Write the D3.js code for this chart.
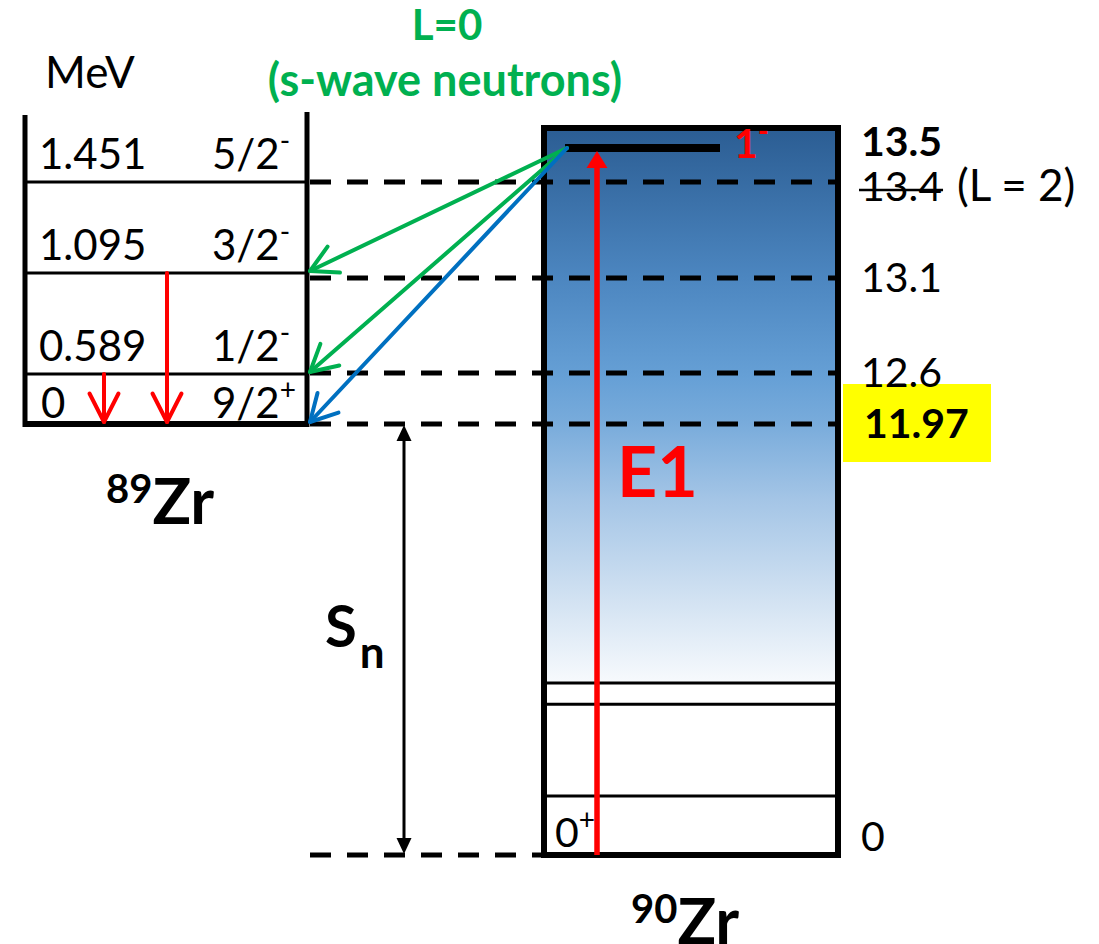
<!DOCTYPE html>
<html>
<head>
<meta charset="utf-8">
<script src="https://cdn.jsdelivr.net/npm/d3@7"></script>
<style>
  html, body { margin: 0; padding: 0; background: #fff; }
  svg { display: block; font-family: Lato, "Open Sans", sans-serif; }
</style>
</head>
<body>
<svg id="chart" width="1099" height="944"></svg>
<script>
// ---- Level data (MeV) ----
// 90Zr: neutron separation energy, the 1- dipole state and bound states below
const separationEnergy = 11.97;
const dipoleEnergy = 13.5;
const dipoleSpin = "1";
const dipoleParity = "-";
const zr90Bound = [1.64, 4.19, 4.78];
const zr90Ground = 0;

// thresholds Sn + E(89Zr) drawn as dashed lines across to 90Zr
const thresholdValues = [13.4, 13.1, 12.6, 11.97];
const rightLabelValues = [13.5, 13.4, 13.1, 12.6, 11.97, 0];
const struckLabel = 13.4;
const struckNote = "(L = 2)";

// 89Zr levels
const zr89Energies = [0, 0.589, 1.095, 1.451];
const zr89Spins = ["9/2", "1/2", "3/2", "5/2"];
const zr89Parities = ["+", "-", "-", "-"];

// neutron emission from the 1- state into 89Zr levels
const neutronTargets = [1.095, 0.589, 0];
const neutronWave = ["s", "s", "d"];

// gamma decays inside 89Zr (from -> ground)
const gammaFrom = [1.095, 0.589];

// ---- Scales ----
// schematic (piecewise) excitation-energy axis for 90Zr
const y90 = d3.scaleLinear()
  .domain([0, 11.97, 12.6, 13.1, 13.4, 13.5, 13.56])
  .range([855, 424, 373, 278, 182, 148, 128]);
// schematic axis for 89Zr levels (ground state sits at Sn)
const y89 = d3.scaleLinear()
  .domain([0, 0.589, 1.095, 1.451, 1.62])
  .range([424, 374, 273, 182, 113]);

// ---- Layout ----
const L0 = 25, L1 = 307;      // 89Zr box
const R0 = 544, R1 = 838;     // 90Zr box
const waveColor = { s: "#00b050", d: "#0070c0" };
const RED = "#ff0000";

const svg = d3.select("#chart");
const defs = svg.append("defs");
const grad = defs.append("linearGradient")
  .attr("id", "continuum").attr("x1", 0).attr("y1", 0).attr("x2", 0).attr("y2", 1);
[[0, "#2b5d93"], [0.27, "#4c86c0"], [0.45, "#66a0d6"], [0.53, "#78abdb"],
 [0.67, "#a4c5e6"], [0.85, "#d2e2f2"], [1, "#f7fafd"]]
  .forEach(([o, c]) => grad.append("stop").attr("offset", o).attr("stop-color", c));

// helpers
function openArrow(g, x1, y1, x2, y2, color, w, arm, half) {
  g.append("line").attr("x1", x1).attr("y1", y1).attr("x2", x2).attr("y2", y2)
    .attr("stroke", color).attr("stroke-width", w).attr("stroke-linecap", "round");
  const a = Math.atan2(y1 - y2, x1 - x2);
  const p1 = [x2 + arm * Math.cos(a + half), y2 + arm * Math.sin(a + half)];
  const p2 = [x2 + arm * Math.cos(a - half), y2 + arm * Math.sin(a - half)];
  g.append("path").attr("d", `M${p1}L${x2},${y2}L${p2}`)
    .attr("fill", "none").attr("stroke", color).attr("stroke-width", w)
    .attr("stroke-linecap", "round").attr("stroke-linejoin", "round");
}
function solidHead(g, x, y, dir, w, len, color) {
  // dir = -1 points up, +1 points down
  g.append("path")
    .attr("d", `M${x},${y}L${x - w / 2},${y - dir * len}L${x + w / 2},${y - dir * len}Z`)
    .attr("fill", color);
}

// ---- 90Zr continuum box ----
const gBox = svg.append("g");
gBox.append("rect")
  .attr("x", R0).attr("y", y90(13.56))
  .attr("width", R1 - R0).attr("height", y90(d3.max(zr90Bound)) - y90(13.56))
  .attr("fill", "url(#continuum)");

gBox.selectAll("line.bound").data(zr90Bound).join("line")
  .attr("x1", R0).attr("x2", R1)
  .attr("y1", d => y90(d)).attr("y2", d => y90(d))
  .attr("stroke", "#000").attr("stroke-width", 3);

// dashed threshold lines
const gDash = svg.append("g");
gDash.selectAll("line").data(thresholdValues).join("line")
  .attr("x1", L1 + 3).attr("x2", R1)
  .attr("y1", d => y90(d)).attr("y2", d => y90(d))
  .attr("stroke", "#000").attr("stroke-width", 5).attr("stroke-dasharray", "21,16");
gDash.append("line")
  .attr("x1", L1 + 3).attr("x2", R0)
  .attr("y1", y90(zr90Ground)).attr("y2", y90(zr90Ground))
  .attr("stroke", "#000").attr("stroke-width", 5).attr("stroke-dasharray", "21,16");

gBox.append("rect")
  .attr("x", R0).attr("y", y90(13.56))
  .attr("width", R1 - R0).attr("height", y90(zr90Ground) - y90(13.56))
  .attr("fill", "none").attr("stroke", "#000").attr("stroke-width", 6);

// 1- state
const yDip = y90(dipoleEnergy);
svg.append("line").attr("x1", 565).attr("x2", 720).attr("y1", yDip).attr("y2", yDip)
  .attr("stroke", "#000").attr("stroke-width", 8);

// E1 excitation arrow
const gE1 = svg.append("g");
gE1.append("line").attr("x1", 597).attr("x2", 597)
  .attr("y1", y90(zr90Ground)).attr("y2", yDip + 18)
  .attr("stroke", RED).attr("stroke-width", 5.5);
solidHead(gE1, 597, yDip + 3, -1, 21, 17, RED);

// ---- 89Zr box ----
const g89 = svg.append("g");
g89.append("line").attr("x1", L0).attr("x2", L0).attr("y1", 115).attr("y2", y89(0) + 3)
  .attr("stroke", "#000").attr("stroke-width", 5);
g89.append("line").attr("x1", L1).attr("x2", L1).attr("y1", 112).attr("y2", y89(0) + 3)
  .attr("stroke", "#000").attr("stroke-width", 5);
g89.selectAll("line.lvl").data(zr89Energies).join("line")
  .attr("x1", L0).attr("x2", L1)
  .attr("y1", d => y89(d)).attr("y2", d => y89(d))
  .attr("stroke", "#000").attr("stroke-width", d => d === 0 ? 6 : 3);

// level labels
zr89Energies.forEach((e, i) => {
  const yb = y89(e) - (e === 0 ? 6 : 13);
  g89.append("text").attr("x", e === 0 ? 41 : 39).attr("y", yb)
    .attr("font-size", 42).text(e === 0 ? "0" : d3.format(".3f")(e));
  const t = g89.append("text").attr("x", 212).attr("y", yb).attr("font-size", 42);
  t.append("tspan").text(zr89Spins[i]);
  t.append("tspan").attr("font-size", 28).attr("dy", -18)
    .text(zr89Parities[i] === "-" ? "-" : "+");
});

// gamma decays within 89Zr
const gxPos = { 1.095: 167, 0.589: 104 };
gammaFrom.forEach(e => {
  openArrow(svg.append("g"), gxPos[e], y89(e), gxPos[e], y89(0) - 2, RED, 4, 32, 0.47);
});

// neutron emission arrows
neutronTargets.forEach((e, i) => {
  openArrow(svg.append("g"), 567, yDip, L1 + 3, y89(e) - 2,
    waveColor[neutronWave[i]], 4, 30, 0.5);
});

// ---- Sn arrow ----
const gSn = svg.append("g");
gSn.append("line").attr("x1", 404).attr("x2", 404)
  .attr("y1", y90(separationEnergy) + 10).attr("y2", y90(zr90Ground) - 10)
  .attr("stroke", "#000").attr("stroke-width", 3);
solidHead(gSn, 404, y90(separationEnergy) + 1, -1, 15, 16, "#000");
solidHead(gSn, 404, y90(zr90Ground) - 1, 1, 15, 16, "#000");
const snT = gSn.append("text").attr("x", 325).attr("y", 647)
  .attr("font-weight", 700).attr("font-size", 58);
snT.append("tspan").text("S");
snT.append("tspan").attr("font-size", 44).attr("dy", 21).attr("dx", 3).text("n");

// ---- Right-hand energy labels ----
svg.append("rect").attr("x", 843).attr("y", 384).attr("width", 148).attr("height", 78)
  .attr("fill", "#ffff00");
const gLab = svg.append("g");
rightLabelValues.forEach(v => {
  const bold = v === dipoleEnergy || v === separationEnergy;
  let dy = 14, x = 861;
  if (v === dipoleEnergy) dy = 8;
  if (v === struckLabel) dy = 19;
  if (v === zr90Ground) dy = -4;
  if (v === separationEnergy) x = 864;
  const t = gLab.append("text").attr("x", x).attr("y", y90(v) + dy)
    .attr("font-size", v === separationEnergy ? 41 : 41).attr("font-weight", bold ? 700 : 400)
    .text(v === zr90Ground ? "0" : String(v));
  if (v === struckLabel) {
    const w = t.node().getComputedTextLength();
    gLab.append("line").attr("x1", x - 2).attr("x2", x + w + 1)
      .attr("y1", y90(v) + 8).attr("y2", y90(v) + 8)
      .attr("stroke", "#000").attr("stroke-width", 2.5);
    gLab.append("text").attr("x", 957).attr("y", y90(v) + dy)
      .attr("font-size", 44).text(struckNote);
  }
});

// 1- label
const dl = svg.append("text").attr("x", 734).attr("y", yDip + 10)
  .attr("fill", RED).attr("font-weight", 700).attr("font-size", 41);
dl.append("tspan").text(dipoleSpin);
dl.append("tspan").attr("font-size", 30).attr("dy", -16).text(dipoleParity);

// 0+ label
const gl = svg.append("text").attr("x", 555).attr("y", y90(zr90Ground) - 8)
  .attr("font-size", 41);
gl.append("tspan").text("0");
gl.append("tspan").attr("font-size", 28).attr("dy", -17).text("+");

// E1 label
svg.append("text").attr("x", 617).attr("y", 497)
  .attr("fill", RED).attr("font-weight", 700).attr("font-size", 70).text("E1");

// MeV
svg.append("text").attr("x", 45).attr("y", 88).attr("font-size", 44).text("MeV");

// L=0 heading
svg.append("text").attr("x", 447).attr("y", 40).attr("text-anchor", "middle")
  .attr("fill", "#00b050").attr("font-weight", 700).attr("font-size", 42).text("L=0");
svg.append("text").attr("x", 445).attr("y", 96).attr("text-anchor", "middle")
  .attr("fill", "#00b050").attr("font-weight", 700).attr("font-size", 45)
  .text("(s-wave neutrons)");

// nucleus names
function nucleus(x, y, mass) {
  const t = svg.append("text").attr("x", x).attr("y", y).attr("font-weight", 700);
  t.append("tspan").attr("font-size", 40).attr("dy", -21).text(mass);
  t.append("tspan").attr("font-size", 64).attr("dy", 21).text("Zr");
}
nucleus(106, 524, "89");
nucleus(631, 944, "90");
</script>
</body>
</html>
